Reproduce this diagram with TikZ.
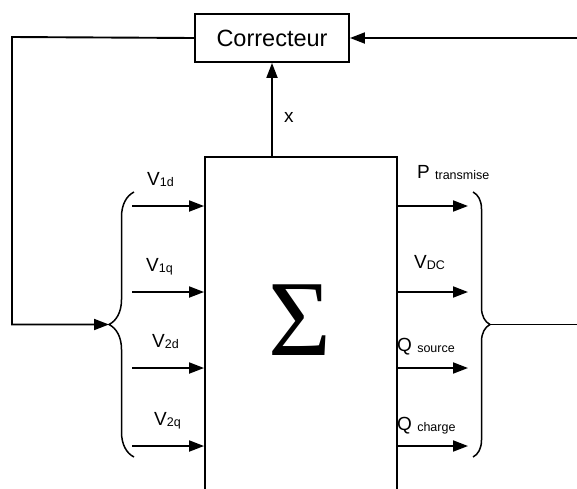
\documentclass[tikz,border=0pt]{standalone}
\usepackage{fontspec}
\setmainfont{Liberation Sans}
\newfontfamily\sigmafont{Liberation Serif}
\usetikzlibrary{arrows.meta,positioning,decorations.pathreplacing}
\newcommand{\sub}[1]{\raisebox{-1.5pt}{\fontsize{12.5}{12.5}\selectfont #1}}

\begin{document}
\begin{tikzpicture}[x=1pt,y=-1pt,
  blk/.style={draw, line width=1.9pt, inner sep=0pt},
  sig/.style={line width=1.9pt, -{Triangle[length=15pt,width=11pt]}},
  lbl/.style={font=\fontsize{19}{19}\selectfont, inner sep=0pt, anchor=base west},
  brc/.style={decorate, line width=1.5pt}]
\useasboundingbox (0,0) rectangle (577,488);
\clip (0,0) rectangle (577,488);
% blocks
\node[blk, minimum width=154pt, minimum height=48pt, font=\fontsize{23.5}{23.5}\selectfont] (corr) at (272,38) {Correcteur};
\node[blk, minimum width=192pt, minimum height=363pt] (sys) at (301,338.5) {};
\node[inner sep=0pt, font=\sigmafont\fontsize{108}{108}\selectfont] (sigma) at (300,320) {Σ};
% braces
\draw[brc, decoration={brace, amplitude=25pt}] (134,457) -- (134,192);
\draw[brc, decoration={brace, amplitude=17pt}] (473,192) -- (473,457);
\coordinate (ltip) at (109,324.5);
\coordinate (rtip) at (490,324.5);
\coordinate (lc) at (12,37);
\coordinate (rc) at (580,324.5);
% inputs
\coordinate (i1) at (132,206);
\coordinate (i2) at (132,292);
\coordinate (i3) at (132,368);
\coordinate (i4) at (132,446);
\draw[sig] (i1) -- (i1 -| sys.west);
\draw[sig] (i2) -- (i2 -| sys.west);
\draw[sig] (i3) -- (i3 -| sys.west);
\draw[sig] (i4) -- (i4 -| sys.west);
\node[lbl] (v1d) at (147,185) {V\sub{1d}};
\node[lbl] (v1q) at (146,271) {V\sub{1q}};
\node[lbl] (v2d) at (152,347) {V\sub{2d}};
\node[lbl] (v2q) at (154,425) {V\sub{2q}};
% outputs
\coordinate (o1) at (468,206);
\coordinate (o2) at (468,292);
\coordinate (o3) at (468,368);
\coordinate (o4) at (468,446);
\draw[sig] (o1 -| sys.east) -- (o1);
\draw[sig] (o2 -| sys.east) -- (o2);
\draw[sig] (o3 -| sys.east) -- (o3);
\draw[sig] (o4 -| sys.east) -- (o4);
\node[lbl] (ptr) at (417,178) {P \sub{transmise}};
\node[lbl] (vdc) at (414,268) {V\sub{DC}};
\node[lbl] (qsrc) at (397,351) {Q \sub{source}};
\node[lbl] (qchg) at (397,430) {Q \sub{charge}};
% feedback loops
\draw[sig] (corr.south |- sys.north) -- (corr.south);
\node[lbl, anchor=west] (xlbl) at (284,117) {x};
\draw[sig] (corr.west) -- (lc) |- (ltip);
\draw[sig] (rtip) -- (rc) |- (corr.east);
\end{tikzpicture}
\end{document}
